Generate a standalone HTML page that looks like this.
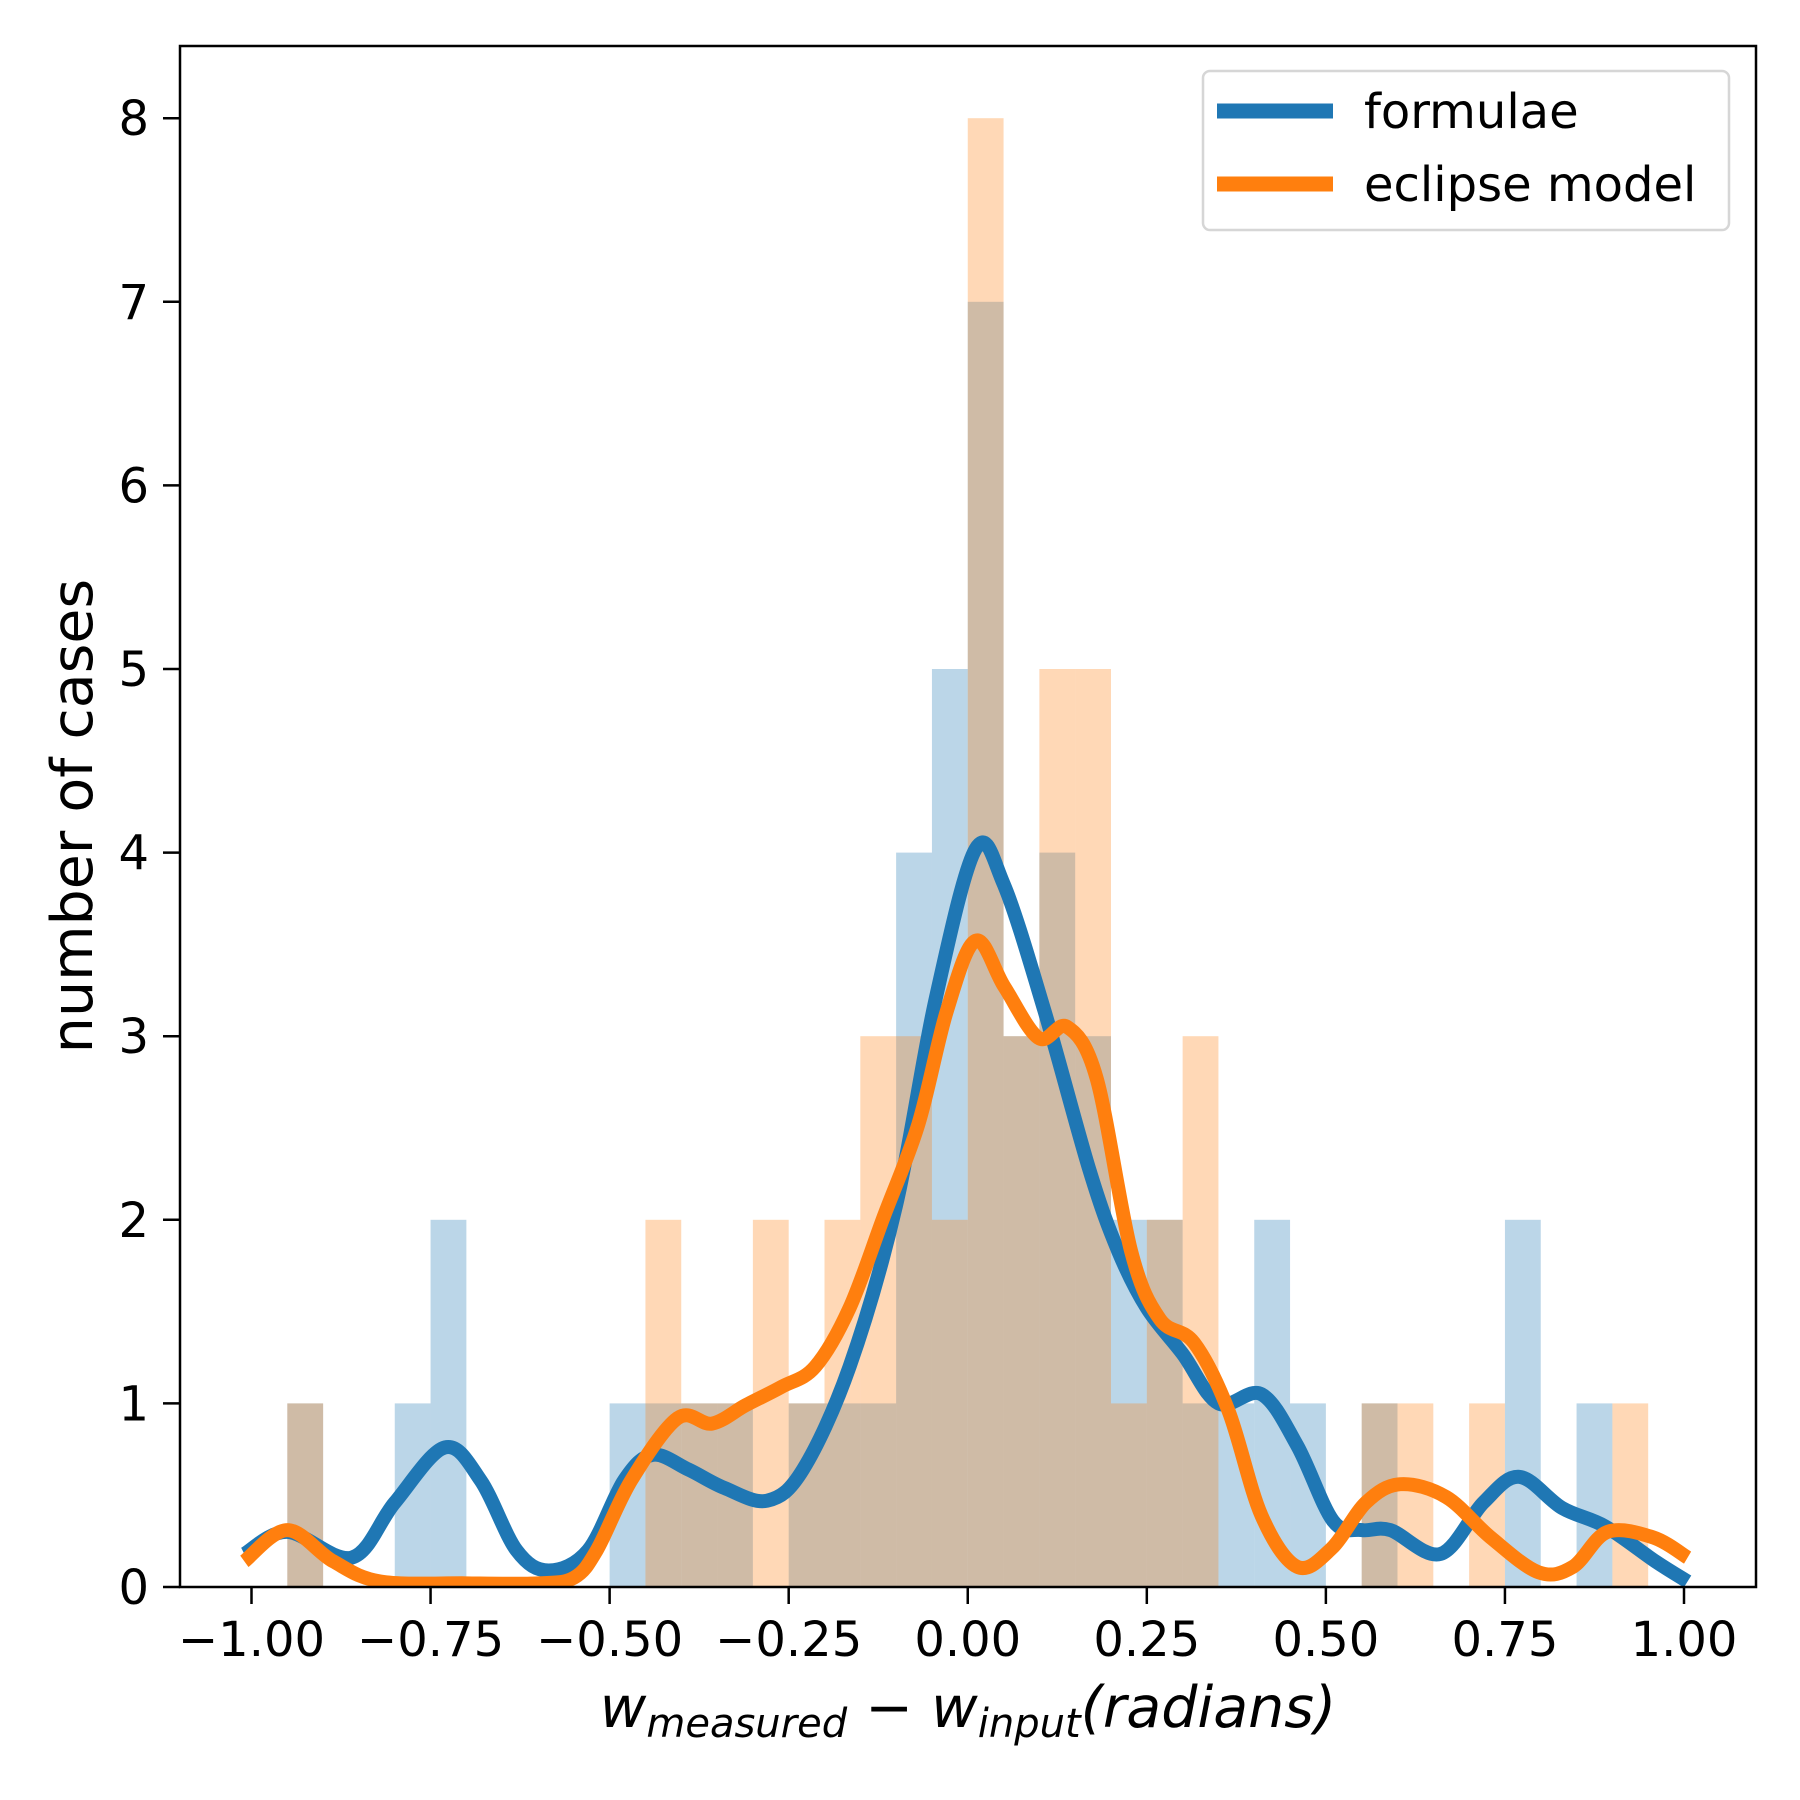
<!DOCTYPE html>
<html><head><meta charset="utf-8"><style>
html,body{margin:0;padding:0;background:#fff;width:1800px;height:1800px;overflow:hidden}
svg{display:block;font-family:"DejaVu Sans","Liberation Sans",sans-serif}
</style></head><body>
<svg id="chart" width="1800" height="1800" viewBox="0 0 1800 1800" xmlns="http://www.w3.org/2000/svg">
<defs><clipPath id="plotclip"><rect x="180" y="46" width="1576" height="1541"/></clipPath></defs>
<g id="bars" clip-path="url(#plotclip)"></g>
<g id="curves" clip-path="url(#plotclip)"></g>
<rect x="180" y="46" width="1576" height="1541" fill="none" stroke="#000" stroke-width="2.5"/>
<g id="xticks"></g>
<g id="yticks"></g>
<text transform="translate(92,816) rotate(-90)" text-anchor="middle" font-size="57">number of cases</text>
<text x="968" y="1727" text-anchor="middle" font-size="57" font-style="italic">w<tspan font-size="40" dy="10">measured</tspan><tspan font-style="normal" dy="-10"> − </tspan>w<tspan font-size="40" dy="10">input</tspan><tspan dy="-10">(radians)</tspan></text>
<g>
<rect x="1203" y="71" width="526" height="159" rx="7" fill="#fff" fill-opacity="0.8" stroke="#d6d6d6" stroke-width="2.5"/>
<line x1="1217" y1="111" x2="1333" y2="111" stroke="#1f77b4" stroke-width="15"/>
<text x="1364" y="128" font-size="48">formulae</text>
<line x1="1217" y1="184" x2="1333" y2="184" stroke="#ff7f0e" stroke-width="15"/>
<text x="1364" y="201" font-size="48">eclipse model</text>
</g>
</svg>
<script>
const binEdges = [-0.95,-0.90,-0.85,-0.80,-0.75,-0.70,-0.65,-0.60,-0.55,-0.50,-0.45,-0.40,-0.35,-0.30,-0.25,-0.20,-0.15,-0.10,-0.05,0.00,0.05,0.10,0.15,0.20,0.25,0.30,0.35,0.40,0.45,0.50,0.55,0.60,0.65,0.70,0.75,0.80,0.85,0.90];
const formulaeCounts = [1,0,0,1,2,0,0,0,0,1,1,1,1,0,1,1,1,4,5,7,3,4,3,2,2,1,1,2,1,0,1,0,0,0,2,0,1,0];
const eclipseCounts  = [1,0,0,0,0,0,0,0,0,0,2,1,1,2,1,2,3,3,2,8,3,5,5,1,2,3,0,0,0,0,1,1,0,1,0,0,0,1];
const formulaeKdeX = [-1.01,-0.95,-0.86,-0.80,-0.73,-0.68,-0.63,-0.585,-0.53,-0.48,-0.44,-0.39,-0.34,-0.28,-0.23,-0.165,-0.10,-0.045,0.011,0.05,0.107,0.17,0.21,0.25,0.30,0.35,0.41,0.46,0.51,0.55,0.59,0.66,0.72,0.77,0.83,0.89,0.96,1.005];
const formulaeKdeY = [0.18,0.30,0.16,0.46,0.76,0.58,0.20,0.09,0.20,0.58,0.72,0.64,0.54,0.47,0.64,1.20,2.08,3.20,4.02,3.83,3.14,2.27,1.83,1.52,1.27,1.00,1.05,0.77,0.36,0.31,0.31,0.18,0.46,0.60,0.43,0.33,0.14,0.03];
const eclipseKdeX = [-1.01,-0.95,-0.886,-0.82,-0.7,-0.6,-0.55,-0.518,-0.47,-0.405,-0.357,-0.31,-0.26,-0.213,-0.165,-0.117,-0.069,-0.029,0.011,0.051,0.099,0.139,0.18,0.228,0.268,0.316,0.364,0.41,0.46,0.508,0.556,0.604,0.668,0.73,0.797,0.845,0.893,0.957,1.005];
const eclipseKdeY = [0.14,0.31,0.14,0.03,0.02,0.02,0.05,0.20,0.58,0.92,0.89,0.99,1.09,1.20,1.52,2.02,2.52,3.14,3.52,3.27,2.99,3.05,2.77,1.83,1.46,1.33,0.96,0.39,0.11,0.21,0.46,0.56,0.49,0.27,0.08,0.11,0.30,0.27,0.16];
const xTickValues = [-1.0,-0.75,-0.5,-0.25,0,0.25,0.5,0.75,1.0];
const xTickLabels = ["−1.00","−0.75","−0.50","−0.25","0.00","0.25","0.50","0.75","1.00"];
const yTickValues = [0,1,2,3,4,5,6,7,8];
const binWidth = 0.05;

const NS = "http://www.w3.org/2000/svg";
function xs(v){ return 251.5 + (v + 1) * 716.25; }
function ys(v){ return 1587 - v * 183.6; }

const bars = document.getElementById('bars');
function drawBars(counts, color, name){
  counts.forEach((c, i) => {
    if (!c) return;
    const r = document.createElementNS(NS, 'rect');
    
    
    const x0 = xs(binEdges[i]), x1 = xs(binEdges[i] + binWidth);
    r.setAttribute('x', x0); r.setAttribute('width', x1 - x0);
    r.setAttribute('y', ys(c)); r.setAttribute('height', ys(0) - ys(c));
    r.setAttribute('fill', color); r.setAttribute('fill-opacity', '0.3');
    bars.appendChild(r);
  });
}
drawBars(formulaeCounts, '#1f77b4', 'formulae');
drawBars(eclipseCounts, '#ff7f0e', 'eclipse');

function smoothPath(X, Y){
  const p = X.map((x, i) => [xs(x), ys(Y[i])]);
  let d = 'M' + p[0][0] + ',' + p[0][1];
  for (let i = 0; i < p.length - 1; i++){
    const p0 = p[Math.max(0, i - 1)], p1 = p[i], p2 = p[i + 1], p3 = p[Math.min(p.length - 1, i + 2)];
    const c1 = [p1[0] + (p2[0] - p0[0]) / 6, p1[1] + (p2[1] - p0[1]) / 6];
    const c2 = [p2[0] - (p3[0] - p1[0]) / 6, p2[1] - (p3[1] - p1[1]) / 6];
    d += ' C' + c1[0] + ',' + c1[1] + ' ' + c2[0] + ',' + c2[1] + ' ' + p2[0] + ',' + p2[1];
  }
  return d;
}
const curves = document.getElementById('curves');
[[formulaeKdeX, formulaeKdeY, '#1f77b4', 'kde-formulae'], [eclipseKdeX, eclipseKdeY, '#ff7f0e', 'kde-eclipse-model']].forEach(s => {
  const path = document.createElementNS(NS, 'path');
  
  
  path.setAttribute('d', smoothPath(s[0], s[1]));
  path.setAttribute('fill', 'none');
  path.setAttribute('stroke', s[2]);
  path.setAttribute('stroke-width', '14');
  path.setAttribute('stroke-linejoin', 'round');
  curves.appendChild(path);
});

const xt = document.getElementById('xticks');
xTickValues.forEach((v, i) => {
  const l = document.createElementNS(NS, 'line');
  
  
  l.setAttribute('x1', xs(v)); l.setAttribute('x2', xs(v));
  l.setAttribute('y1', 1587); l.setAttribute('y2', 1604);
  l.setAttribute('stroke', '#000'); l.setAttribute('stroke-width', '2.5');
  xt.appendChild(l);
  const t = document.createElementNS(NS, 'text');
  
  
  t.setAttribute('x', xs(v)); t.setAttribute('y', 1656);
  t.setAttribute('text-anchor', 'middle'); t.setAttribute('font-size', '48');
  t.textContent = xTickLabels[i];
  xt.appendChild(t);
});
const yt = document.getElementById('yticks');
yTickValues.forEach(v => {
  const l = document.createElementNS(NS, 'line');
  
  
  l.setAttribute('x1', 163); l.setAttribute('x2', 180);
  l.setAttribute('y1', ys(v)); l.setAttribute('y2', ys(v));
  l.setAttribute('stroke', '#000'); l.setAttribute('stroke-width', '2.5');
  yt.appendChild(l);
  const t = document.createElementNS(NS, 'text');
  
  
  t.setAttribute('x', 149); t.setAttribute('y', ys(v) + 17);
  t.setAttribute('text-anchor', 'end'); t.setAttribute('font-size', '48');
  t.textContent = String(v);
  yt.appendChild(t);
});
</script>
</body></html>
